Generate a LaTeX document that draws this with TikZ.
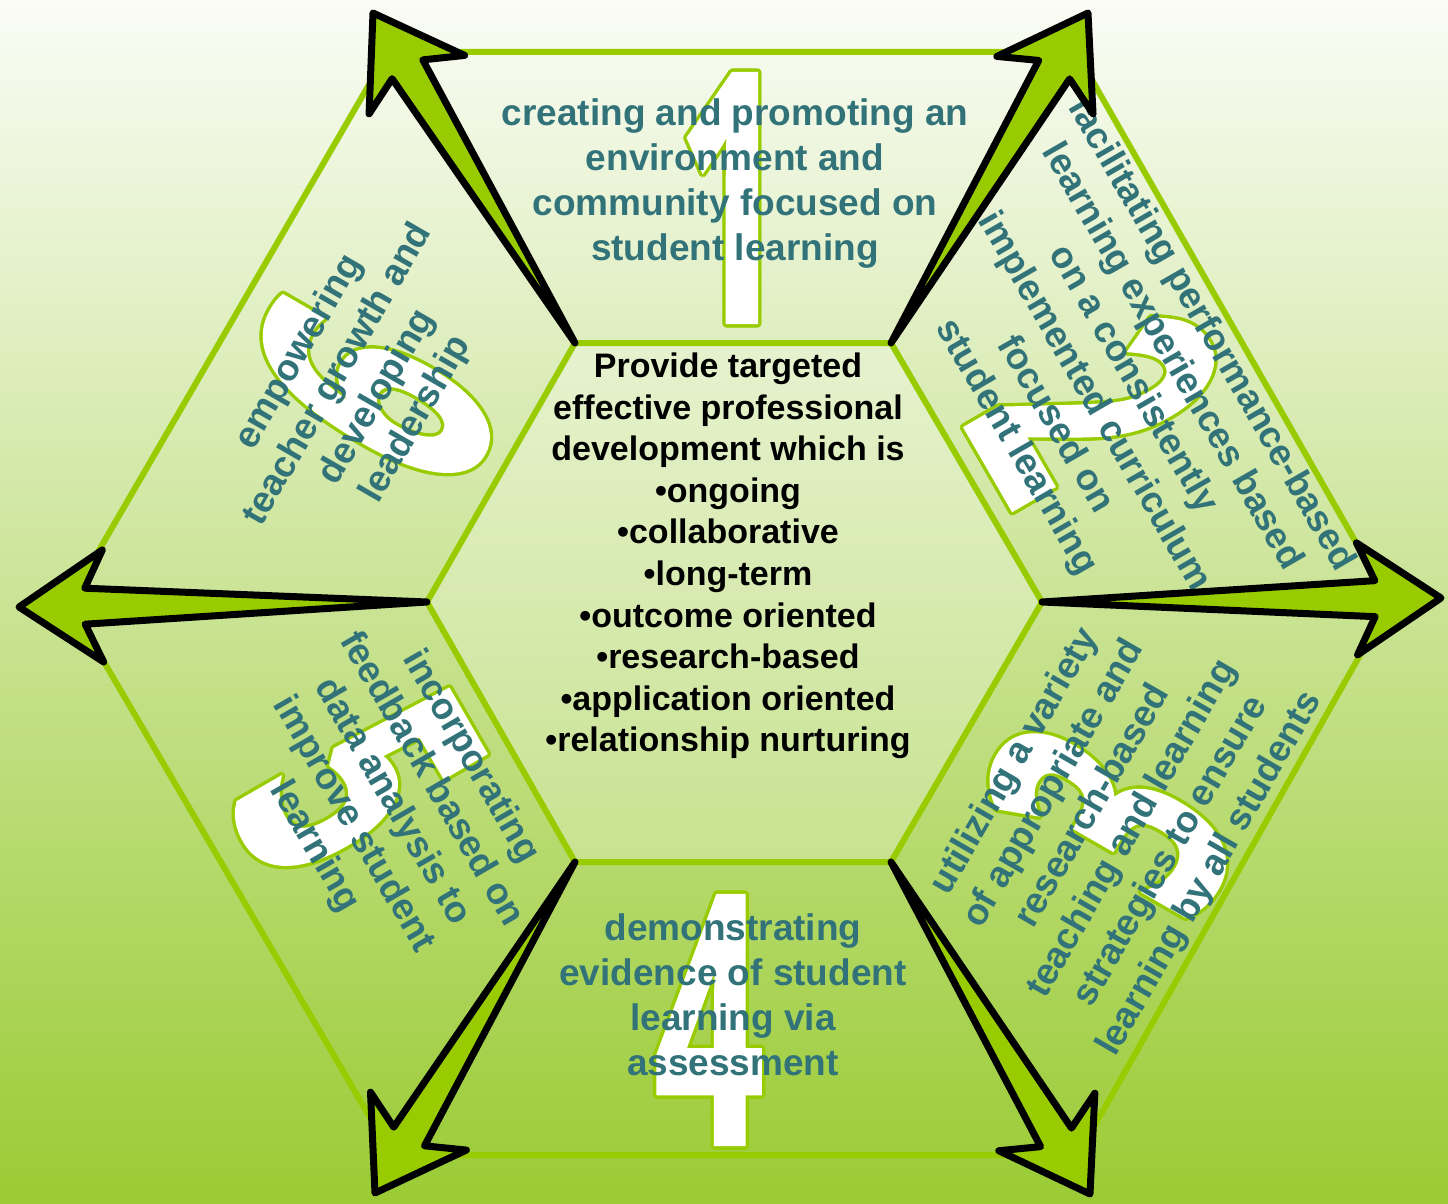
\documentclass[tikz,border=0pt]{standalone}
\usepackage{fontspec}
\usepackage{graphicx}
\setmainfont{Liberation Sans}
\newfontfamily\digitfont[FakeBold=2]{Open Sans}
\usetikzlibrary{calc}

\definecolor{hexgreen}{RGB}{153,204,0}
\definecolor{labelteal}{RGB}{49,115,120}
\definecolor{bgtop}{RGB}{250,252,246}
\definecolor{bgmid}{RGB}{213,231,186}
\definecolor{bgbot}{RGB}{154,203,52}

% arrow from inner corner #1 out to tip #2
\newcommand{\spoke}[2]{%
  \path ($(#2)!33pt!(#1)$) coordinate (neck) ($(#2)!42pt!(#1)$) coordinate (barb);
  \draw[spokearrow] (#1) -- ($(neck)!9pt!90:(#2)$) -- ($(barb)!28pt!90:(#2)$) -- (#2)
    -- ($(barb)!28pt!-90:(#2)$) -- ($(neck)!9pt!-90:(#2)$) -- cycle;
}
% big outlined digit: name, position, angle, digit
\newcommand{\bignum}[4]{%
  \foreach \a in {0,30,...,330} {
    \node[numhalo, rotate=#3] (#1-\a) at ($(#2)+(\a:1.7pt)$) {\scalebox{0.55}[1]{#4}};
  }
  \node[numface, rotate=#3] (#1) at (#2) {\scalebox{0.55}[1]{#4}};
}

\begin{document}
\begin{tikzpicture}[x=0.5pt, y=-0.5pt,
    hexline/.style={draw=hexgreen, line width=3pt, line join=round},
    spokearrow/.style={draw=black, fill=hexgreen, line width=3.5pt, line join=round},
    numhalo/.style={text=hexgreen, inner sep=0pt, font=\digitfont\fontsize{172}{172}\selectfont\bfseries},
    numface/.style={text=white, inner sep=0pt, font=\digitfont\fontsize{172}{172}\selectfont\bfseries},
    seglabel/.style={text=labelteal, align=center, inner sep=0pt, font=\fontsize{18.5}{22.5}\selectfont\bfseries},
    corelabel/.style={text=black, align=center, inner sep=0pt, font=\fontsize{17}{20.8}\selectfont\bfseries}]
  \useasboundingbox (0,0) rectangle (1448,1204);
  \shade[top color=bgtop, middle color=bgmid, bottom color=bgbot] (0,0) rectangle (1448,1204);

  % inner and outer corners
  \coordinate (i1) at (575,343);  \coordinate (o1) at (388,52);
  \coordinate (i2) at (891,343);  \coordinate (o2) at (1076,52);
  \coordinate (i3) at (1042,602); \coordinate (o3) at (1390,602);
  \coordinate (i4) at (891,862);  \coordinate (o4) at (1078,1155);
  \coordinate (i5) at (575,862);  \coordinate (o5) at (392,1155);
  \coordinate (i6) at (427,602);  \coordinate (o6) at (69,602);

  \fill[white, opacity=0.25] (i1) -- (i2) -- (i3) -- (i4) -- (i5) -- (i6) -- cycle;
  \draw[hexline] (i1) -- (i2) -- (i3) -- (i4) -- (i5) -- (i6) -- cycle;
  \draw[hexline] (o1) -- (o2) -- (o3) -- (o4) -- (o5) -- (o6) -- cycle;
  \foreach \k in {1,...,6} {
    \draw[hexline] (i\k) -- (o\k);
  }

  \bignum{num1}{732,198}{0}{1}
  \bignum{num2}{1098,405}{-60}{2}
  \bignum{num3}{1110,818}{60}{3}
  \bignum{num4}{709,1020}{0}{4}
  \bignum{num5}{358,785}{-60}{5}
  \bignum{num6}{372,392}{60}{6}

  \node[seglabel] (seg1) at (735,184) {creating and promoting an\\environment and\\community focused on\\student learning};
  \node[seglabel, rotate=-60] (seg2) at (1113,391) {facilitating performance-based\\learning experiences based\\on a consistently\\implemented curriculum\\focused on\\student learning};
  \node[seglabel, rotate=60] (seg3) at (1113,818) {utilizing a variety\\of appropriate and\\research-based\\teaching and learning\\strategies to ensure\\learning by all students};
  \node[seglabel] (seg4) at (733,995) {demonstrating\\evidence of student\\learning via\\assessment};
  \node[seglabel, rotate=-60] (seg5) at (392,802) {incorporating\\feedback based on\\data analysis to\\improve student\\learning};
  \node[seglabel, rotate=60] (seg6) at (358,386) {empowering\\teacher growth and\\developing\\leadership};
  \node[corelabel] (core) at (728,556) {Provide targeted\\effective professional\\development which is\\•ongoing\\•collaborative\\•long-term\\•outcome oriented\\•research-based\\•application oriented\\•relationship nurturing};

  \coordinate (t1) at (373,13);
  \coordinate (t2) at (1088,13);
  \coordinate (t3) at (1441,598);
  \coordinate (t4) at (1090,1194);
  \coordinate (t5) at (375,1193);
  \coordinate (t6) at (19,607);
  \foreach \k in {1,...,6} {
    \spoke{i\k}{t\k}
  }
\end{tikzpicture}
\end{document}
